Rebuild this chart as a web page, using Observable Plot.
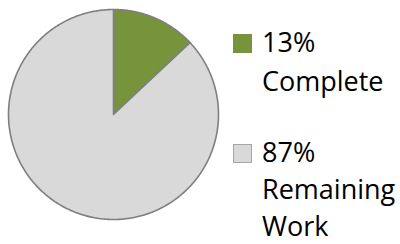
<!DOCTYPE html>
<html>
<head>
<meta charset="utf-8">
<script src="https://cdn.jsdelivr.net/npm/d3@7"></script>
<script src="https://cdn.jsdelivr.net/npm/@observablehq/plot@0.6"></script>
<style>
  html, body { margin: 0; padding: 0; background: #fff; }
  #wrap { position: relative; width: 400px; height: 244px; overflow: hidden; }
  #legend { position: absolute; left: 233px; top: 0; font-family: "Open Sans", sans-serif; font-size: 27px; color: #000; }
  .sw { position: absolute; left: 0; width: 19px; height: 19px; box-sizing: border-box; }
  .lab { position: absolute; left: 29px; line-height: 24px; white-space: nowrap; }
</style>
</head>
<body>
<div id="wrap"><div id="legend"></div></div>
<script>
const categories = ["Complete", "Remaining Work"];
const values = [13, 87];
const labelLines = [["13%", "Complete"], ["87%", "Remaining", "Work"]];
const colors = ["#77933C", "#D9D9D9"];
const swatchBorders = ["#77933C", "#A6A6A6"];

// slice outlines from the data (unit circle, clockwise from 12 o'clock)
const pie = d3.pie().sort(null).value(d => d.value);
const arcs = pie(categories.map((c, i) => ({category: c, value: values[i]})));
const pts = [];
arcs.forEach(a => {
  const n = Math.max(2, Math.ceil((a.endAngle - a.startAngle) / 0.01));
  pts.push({category: a.data.category, u: 0, v: 0});
  for (let k = 0; k <= n; k++) {
    const t = a.startAngle + (a.endAngle - a.startAngle) * k / n;
    pts.push({category: a.data.category, u: Math.sin(t), v: Math.cos(t)});
  }
  pts.push({category: a.data.category, u: 0, v: 0});
});

const cx = 113, cy = 114, r = 105;
const chart = Plot.plot({
  width: 400,
  height: 244,
  margin: 0,
  x: {domain: [-1, 1], range: [cx - r, cx + r], axis: null},
  y: {domain: [-1, 1], range: [cy + r, cy - r], axis: null},
  color: {domain: categories, range: colors},
  marks: [
    Plot.line(pts, {x: "u", y: "v", z: "category", fill: "category", stroke: "#7F7F7F", strokeWidth: 1.6, strokeLinejoin: "round", curve: "linear"})
  ]
});
chart.style.position = "absolute";
chart.style.left = "0";
chart.style.top = "0";
document.getElementById("wrap").prepend(chart);

const legend = document.getElementById("legend");
const tops = [34, 144];
const textTops = [[29.5, 68.5], [139.5, 176.5, 213.5]];
labelLines.forEach((lines, i) => {
  const sw = document.createElement("div");
  sw.className = "sw";
  sw.style.top = tops[i] + "px";
  sw.style.background = colors[i];
  sw.style.border = "1px solid " + swatchBorders[i];
  legend.appendChild(sw);
  lines.forEach((t, j) => {
    const s = document.createElement("div");
    s.className = "lab";
    s.style.top = textTops[i][j] + "px";
    s.textContent = t;
    legend.appendChild(s);
  });
});
</script>
</body>
</html>
